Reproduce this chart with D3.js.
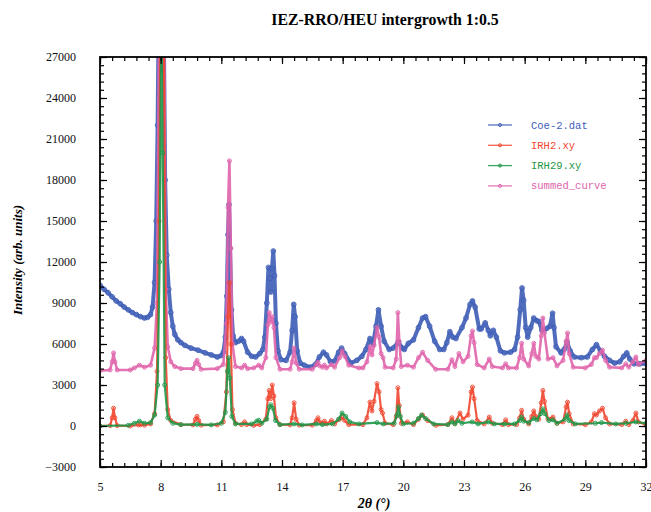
<!DOCTYPE html>
<html>
<head>
<meta charset="utf-8">
<style>
  body { margin: 0; background: #fff; }
  svg { display: block; }
</style>
</head>
<body>
<script src="https://cdn.jsdelivr.net/npm/d3@7/dist/d3.min.js"></script>
<script>
// values, [2theta, intensity]
let coe2 = [[5.0,10300],[5.2,10000],[5.4,9750],[5.6,9450],[5.8,9150],[6.0,8950],[6.2,8700],[6.4,8500],[6.6,8300],[6.8,8150],[7.0,8000],[7.2,7900],[7.35,7950],[7.5,8150],[7.6,8700],[7.7,10500],[7.78,15000],[7.85,22000],[7.9,30000],[7.95,34000],[8.0,31000],[8.05,26000],[8.1,33000],[8.15,30000],[8.22,18000],[8.3,12500],[8.4,10000],[8.5,8300],[8.6,7300],[8.7,6700],[8.85,6300],[9.0,6100],[9.2,5900],[9.5,5700],[9.85,5550],[10.2,5350],[10.5,5200],[10.8,5050],[11.0,5150],[11.1,5400],[11.2,6500],[11.27,9500],[11.33,14000],[11.38,16200],[11.43,13000],[11.5,8500],[11.58,6600],[11.7,6100],[11.85,6200],[12.0,6400],[12.1,6200],[12.3,5400],[12.5,5100],[12.7,5050],[12.9,5300],[13.05,5600],[13.15,6500],[13.25,9000],[13.33,11600],[13.4,10800],[13.45,9800],[13.5,11500],[13.57,12800],[13.63,11000],[13.7,7500],[13.8,5500],[13.95,4850],[14.2,4800],[14.4,5400],[14.5,7000],[14.58,8900],[14.65,8000],[14.75,5500],[14.9,4600],[15.1,4450],[15.4,4300],[15.65,4500],[15.85,5050],[16.05,5400],[16.2,5200],[16.4,4700],[16.6,4750],[16.8,5400],[16.95,5700],[17.1,5300],[17.4,4600],[17.7,4800],[17.95,5100],[18.15,5600],[18.35,6400],[18.5,6000],[18.65,7300],[18.77,8500],[18.9,7300],[19.05,6200],[19.3,5600],[19.5,5700],[19.75,6150],[19.95,5700],[20.05,5600],[20.25,6050],[20.5,6300],[20.75,7200],[20.95,7900],[21.1,8000],[21.3,7300],[21.55,6200],[21.8,5600],[22.0,5600],[22.15,6100],[22.3,6900],[22.45,6500],[22.6,6400],[22.9,7200],[23.1,7900],[23.3,8900],[23.42,9150],[23.55,8700],[23.75,7100],[23.85,7100],[24.05,7550],[24.2,7000],[24.3,6600],[24.45,7000],[24.6,6500],[24.8,5500],[25.0,5350],[25.3,5400],[25.5,5600],[25.65,6500],[25.78,8500],[25.87,10100],[25.95,9200],[26.05,7200],[26.15,6500],[26.3,7200],[26.45,7900],[26.6,7700],[26.7,7650],[26.85,7000],[26.95,7000],[27.1,7150],[27.25,7300],[27.38,8250],[27.45,7200],[27.55,5800],[27.8,5350],[27.95,5600],[28.1,6150],[28.25,5500],[28.45,5050],[28.8,5000],[29.1,5050],[29.35,5600],[29.55,5950],[29.75,5500],[29.95,5100],[30.2,4800],[30.45,4600],[30.7,4700],[30.9,5100],[31.05,5350],[31.2,4900],[31.4,4550],[31.7,4550],[32.0,4550]]

let irh2 = [[5.0,0],[5.5,30],[5.6,600],[5.67,1300],[5.74,600],[5.85,30],[6.5,0],[6.9,80],[7.0,100],[7.2,60],[7.5,150],[7.7,900],[7.82,4000],[7.92,15000],[8.0,32000],[8.08,40000],[8.15,30000],[8.25,5000],[8.35,1200],[8.5,400],[9.0,100],[9.6,80],[9.72,500],[9.8,700],[9.88,400],[10.0,60],[10.8,80],[11.1,300],[11.25,2500],[11.33,8000],[11.4,10500],[11.47,6000],[11.55,1200],[11.7,200],[12.0,100],[12.15,300],[12.25,100],[12.6,50],[12.9,100],[13.2,500],[13.3,2000],[13.37,2600],[13.44,2000],[13.52,3000],[13.6,2200],[13.7,600],[13.9,100],[14.4,80],[14.5,600],[14.6,1700],[14.7,500],[14.85,60],[15.5,60],[15.7,400],[15.78,600],[15.86,300],[16.0,200],[16.1,350],[16.2,150],[16.45,400],[16.6,150],[16.85,500],[16.95,650],[17.1,400],[17.3,100],[18.0,100],[18.2,600],[18.35,1750],[18.45,1100],[18.55,1800],[18.7,3100],[18.8,2500],[18.9,1200],[18.97,950],[19.1,200],[19.5,100],[19.65,700],[19.73,2800],[19.8,1500],[19.9,200],[20.2,300],[20.5,100],[20.75,500],[20.95,800],[21.2,400],[21.6,50],[22.2,100],[22.4,600],[22.55,200],[22.8,950],[22.95,500],[23.2,800],[23.35,2500],[23.42,2850],[23.5,2000],[23.65,400],[24.0,150],[24.25,650],[24.4,200],[24.9,100],[25.06,450],[25.2,100],[25.6,100],[25.75,600],[25.85,1150],[25.95,500],[26.2,150],[26.35,700],[26.45,1100],[26.55,700],[26.7,500],[26.82,1700],[26.9,2600],[26.98,1800],[27.15,500],[27.4,650],[27.6,200],[27.9,300],[28.05,1400],[28.12,1750],[28.2,900],[28.4,150],[29.0,100],[29.3,300],[29.45,900],[29.55,800],[29.7,1100],[29.85,1300],[30.0,600],[30.2,150],[30.8,100],[31.0,350],[31.15,100],[31.35,400],[31.5,950],[31.62,300],[32.0,100]]

let irh29 = [[5.0,0],[6.4,50],[6.7,200],[6.95,350],[7.2,200],[7.5,250],[7.7,800],[7.85,3000],[7.95,12000],[8.03,30000],[8.1,20000],[8.2,3000],[8.35,600],[8.6,200],[9.0,100],[9.8,120],[10.5,80],[11.0,200],[11.2,1000],[11.3,4000],[11.36,5000],[11.42,3500],[11.52,700],[11.7,150],[12.5,150],[12.75,350],[12.85,420],[13.0,200],[13.25,500],[13.38,1400],[13.45,1550],[13.55,1300],[13.68,400],[13.9,100],[14.6,150],[15.0,80],[15.7,150],[16.0,100],[16.5,150],[16.8,500],[16.97,950],[17.15,700],[17.35,300],[17.8,150],[18.7,250],[19.0,150],[19.55,200],[19.68,800],[19.76,1400],[19.85,700],[20.0,150],[20.5,200],[20.75,550],[20.9,800],[21.1,550],[21.5,150],[22.2,100],[22.4,300],[22.55,150],[22.7,400],[22.9,200],[23.4,300],[23.7,150],[24.2,300],[24.5,150],[25.0,150],[25.5,150],[25.75,400],[25.85,650],[25.95,350],[26.2,250],[26.45,550],[26.6,450],[26.8,900],[26.9,1250],[27.0,900],[27.2,400],[27.4,450],[27.6,200],[28.0,500],[28.1,800],[28.2,400],[28.5,150],[29.5,200],[29.8,250],[30.5,150],[31.0,200],[31.5,300],[32.0,200]]

let summed = [[5.0,4050],[5.5,4100],[5.6,4700],[5.67,5350],[5.74,4700],[5.85,4100],[6.5,4100],[6.7,4250],[6.95,4450],[7.2,4300],[7.5,4450],[7.7,5700],[7.82,9000],[7.92,30000],[8.0,45000],[8.08,50000],[8.15,35000],[8.25,10000],[8.35,5800],[8.5,4700],[8.7,4350],[9.0,4200],[9.6,4200],[9.72,4600],[9.8,4800],[9.88,4500],[10.0,4150],[10.8,4200],[11.1,4500],[11.25,7500],[11.33,16000],[11.4,19400],[11.47,13000],[11.55,6000],[11.7,4350],[12.0,4250],[12.15,4450],[12.3,4200],[12.6,4250],[12.85,4450],[13.0,4250],[13.2,5000],[13.3,7400],[13.37,8300],[13.44,7600],[13.52,8000],[13.6,7200],[13.7,5000],[13.9,4150],[14.4,4150],[14.5,4700],[14.6,5700],[14.7,4600],[14.85,4150],[15.5,4150],[15.7,4500],[15.78,4650],[15.86,4400],[16.0,4300],[16.1,4450],[16.2,4250],[16.45,4500],[16.6,4300],[16.85,5000],[16.97,5500],[17.1,5100],[17.3,4450],[17.8,4250],[18.0,4250],[18.2,4700],[18.35,5800],[18.45,5200],[18.55,5900],[18.7,7200],[18.8,6500],[18.9,5300],[19.0,5000],[19.1,4300],[19.5,4250],[19.65,4900],[19.73,8300],[19.8,6200],[19.9,4350],[20.2,4450],[20.5,4300],[20.75,5000],[20.95,5400],[21.2,4800],[21.6,4150],[22.2,4150],[22.4,4850],[22.55,4350],[22.75,5300],[22.95,4700],[23.2,5100],[23.35,6600],[23.42,6950],[23.5,6100],[23.65,4500],[24.0,4250],[24.25,4900],[24.4,4350],[24.9,4250],[25.06,4550],[25.2,4250],[25.6,4250],[25.75,5000],[25.85,6050],[25.95,4900],[26.2,4400],[26.35,5300],[26.45,6050],[26.55,5100],[26.7,4900],[26.82,6600],[26.9,7900],[26.98,6800],[27.15,4900],[27.4,5000],[27.6,4400],[27.9,4800],[28.05,6200],[28.12,6800],[28.2,5300],[28.4,4300],[29.0,4250],[29.3,4500],[29.45,5000],[29.55,5000],[29.7,5300],[29.85,5550],[30.0,4800],[30.2,4300],[30.8,4250],[31.0,4550],[31.15,4300],[31.35,4700],[31.5,5050],[31.62,4500],[32.0,4800]]

let seriesNames = ["Coe-2.dat", "IRH2.xy", "IRH29.xy", "summed_curve"]
let xTicks = [5, 8, 11, 14, 17, 20, 23, 26, 29, 32]
let yTicks = [-3000, 0, 3000, 6000, 9000, 12000, 15000, 18000, 21000, 24000, 27000]

let blue = "#3d5cb6", red = "#f0462f", green = "#1f9748", pink = "#e064ab"

let W = 651, H = 512
let pLeft = 100, pRight = 646, pTop = 57, pBottom = 467

let svg = d3.select("body").append("svg").attr("width", W).attr("height", H)
svg.append("rect").attr("width", W).attr("height", H).attr("fill", "#fff")

let x = d3.scaleLinear().domain([5, 32]).range([pLeft, pRight])
let y = d3.scaleLinear().domain([-3000, 27000]).range([pBottom, pTop])

svg.append("defs").append("clipPath").attr("id", "plot")
   .append("rect").attr("x", pLeft).attr("y", pTop).attr("width", pRight - pLeft).attr("height", pBottom - pTop)

let line = d3.line().x(d => x(d[0])).y(d => y(d[1]))
let plot = svg.append("g").attr("clip-path", "url(#plot)")

let draw_series = (data, color, width, r) => {
    plot.append("path").datum(data).attr("d", line)
        .attr("fill", "none").attr("stroke", color).attr("stroke-width", width)
        .attr("stroke-linejoin", "round").attr("opacity", 0.9)
    plot.selectAll(null).data(data).enter().append("circle")
        .attr("cx", d => x(d[0])).attr("cy", d => y(d[1])).attr("r", r)
        .attr("fill", "none").attr("stroke", color).attr("stroke-width", 0.9)
}

draw_series(coe2, blue, 4, 2.4)
draw_series(summed, pink, 2.6, 2)
draw_series(irh2, red, 2.2, 2)
draw_series(irh29, green, 2.2, 2)

// axes, ticks pointing inward
let minorX = d3.range(0, 46).map(i => 5 + i * 0.6)
let minorY = d3.range(0, 51).map(i => -3000 + i * 600)

let add_axis = (axis, tx, ty) => {
    let g = svg.append("g").attr("transform", `translate(${tx},${ty})`).call(axis)
    g.select(".domain").remove()
    g.selectAll("line").attr("stroke", "#000").attr("stroke-width", 1.2)
    return g
}

add_axis(d3.axisBottom(x).tickValues(minorX).tickSize(-4).tickFormat(""), 0, pBottom)
add_axis(d3.axisTop(x).tickValues(minorX).tickSize(-4).tickFormat(""), 0, pTop)
add_axis(d3.axisLeft(y).tickValues(minorY).tickSize(-4).tickFormat(""), pLeft, 0)
add_axis(d3.axisRight(y).tickValues(minorY).tickSize(-4).tickFormat(""), pRight, 0)

let xb = add_axis(d3.axisBottom(x).tickValues(xTicks).tickSize(-7).tickPadding(15).tickFormat(d3.format("d")), 0, pBottom)
add_axis(d3.axisTop(x).tickValues(xTicks).tickSize(-7).tickFormat(""), 0, pTop)
let yl = add_axis(d3.axisLeft(y).tickValues(yTicks).tickSize(-7).tickPadding(24).tickFormat(d3.format("d")), pLeft, 0)
add_axis(d3.axisRight(y).tickValues(yTicks).tickSize(-7).tickFormat(""), pRight, 0)

xb.selectAll("text").attr("font-family", "Liberation Serif").attr("font-size", 12).attr("fill", "#111")
yl.selectAll("text").attr("font-family", "Liberation Serif").attr("font-size", 12).attr("fill", "#111")

svg.append("rect").attr("x", pLeft).attr("y", pTop).attr("width", pRight - pLeft).attr("height", pBottom - pTop)
   .attr("fill", "none").attr("stroke", "#000").attr("stroke-width", 1.8)

// titles
svg.append("text").attr("x", 385).attr("y", 25).attr("text-anchor", "middle")
   .attr("font-family", "Liberation Serif").attr("font-weight", "bold").attr("font-size", 15.8)
   .text("IEZ-RRO/HEU intergrowth 1:0.5")
svg.append("text").attr("x", 374).attr("y", 508).attr("text-anchor", "middle")
   .attr("font-family", "Liberation Serif").attr("font-weight", "bold").attr("font-style", "italic").attr("font-size", 14)
   .text("2θ (°)")
svg.append("text").attr("transform", "translate(22,260) rotate(-90)").attr("text-anchor", "middle")
   .attr("font-family", "Liberation Serif").attr("font-weight", "bold").attr("font-style", "italic").attr("font-size", 13)
   .text("Intensity (arb. units)")

// legend
let legendColors = [blue, red, green, pink]
let lg = svg.append("g")
seriesNames.forEach((name, i) => {
    let ly = 125 + i * 20.3
    lg.append("line").attr("x1", 488).attr("x2", 512).attr("y1", ly).attr("y2", ly)
      .attr("stroke", legendColors[i]).attr("stroke-width", 1.3).attr("opacity", 0.85)
    lg.append("circle").attr("cx", 500).attr("cy", ly).attr("r", 1.5)
      .attr("fill", "none").attr("stroke", legendColors[i]).attr("stroke-width", 1)
    lg.append("text").attr("x", 531).attr("y", ly + 3.5)
      .attr("font-family", "Liberation Mono").attr("font-size", 10.5).attr("fill", legendColors[i])
      .text(name)
})
</script>
</body>
</html>
